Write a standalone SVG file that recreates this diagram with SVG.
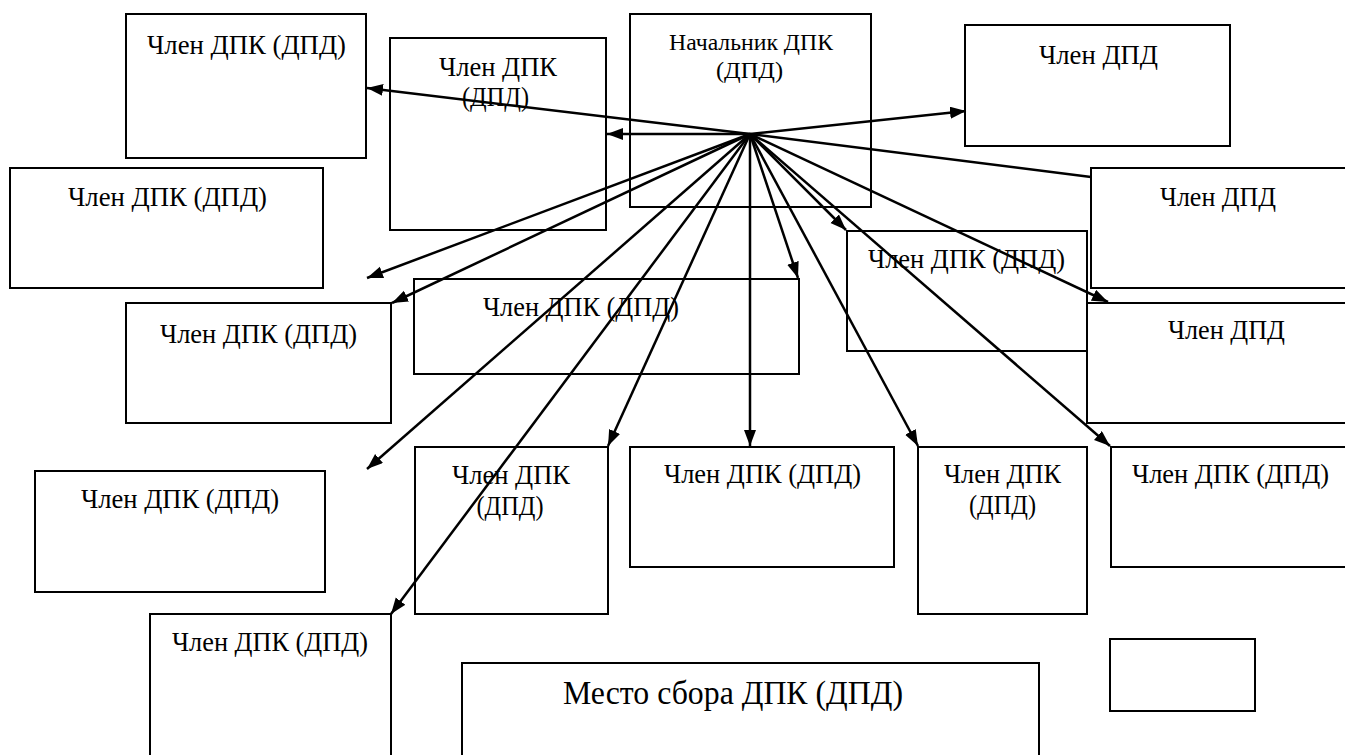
<svg xmlns="http://www.w3.org/2000/svg" width="1345" height="755" viewBox="0 0 1345 755">
<style>
.box{fill:#fff;stroke:#000;stroke-width:2}
.t{font-family:"Liberation Serif","Times New Roman",serif;font-size:28px;fill:#000;text-anchor:middle}
.s{font-size:24px}
.b{font-size:33px}
.c{stroke:#000;stroke-width:2.5;fill:none}
.a{marker-end:url(#ah)}
</style>
<defs>
<marker id="ah" markerUnits="userSpaceOnUse" markerWidth="17" markerHeight="13" refX="16" refY="6" orient="auto">
<path d="M0,0 L16,6 L0,12 z" fill="#000"/>
</marker>
</defs>
<rect width="1345" height="755" fill="#fff"/>
<g id="nodeA"><rect class="box" x="126" y="14" width="240" height="144"/><text class="t" x="246.5" y="54" textLength="199" lengthAdjust="spacingAndGlyphs">Член ДПК (ДПД)</text></g>
<g id="nodeB"><rect class="box" x="390" y="38" width="216" height="192"/><text class="t" x="498" y="76" textLength="118" lengthAdjust="spacingAndGlyphs">Член ДПК</text><text class="t" x="495.5" y="106" textLength="67" lengthAdjust="spacingAndGlyphs">(ДПД)</text></g>
<g id="nodeC"><rect class="box" x="630" y="14" width="241" height="193"/><text class="t s" x="751" y="50" textLength="164" lengthAdjust="spacingAndGlyphs">Начальник ДПК</text><text class="t s" x="749.5" y="78" textLength="67" lengthAdjust="spacingAndGlyphs">(ДПД)</text></g>
<g id="nodeD"><rect class="box" x="965" y="25" width="265" height="121"/><text class="t" x="1098.5" y="64" textLength="119" lengthAdjust="spacingAndGlyphs">Член ДПД</text></g>
<g id="nodeE"><rect class="box" x="1091" y="168" width="260" height="120"/><text class="t" x="1218" y="206" textLength="116" lengthAdjust="spacingAndGlyphs">Член ДПД</text></g>
<g id="nodeF"><rect class="box" x="10" y="168" width="313" height="120"/><text class="t" x="167.5" y="206" textLength="199" lengthAdjust="spacingAndGlyphs">Член ДПК (ДПД)</text></g>
<g id="nodeG"><rect class="box" x="847" y="231" width="240" height="120"/><text class="t" x="966.5" y="268" textLength="197" lengthAdjust="spacingAndGlyphs">Член ДПК (ДПД)</text></g>
<g id="nodeH"><rect class="box" x="126" y="303" width="265" height="120"/><text class="t" x="258.5" y="343" textLength="197" lengthAdjust="spacingAndGlyphs">Член ДПК (ДПД)</text></g>
<g id="nodeI"><rect class="box" x="414" y="279" width="385" height="95"/><text class="t" x="581" y="316" textLength="196" lengthAdjust="spacingAndGlyphs">Член ДПК (ДПД)</text></g>
<g id="nodeJ"><rect class="box" x="1087" y="303" width="264" height="120"/><text class="t" x="1226.5" y="339" textLength="117" lengthAdjust="spacingAndGlyphs">Член ДПД</text></g>
<g id="nodeK"><rect class="box" x="35" y="471" width="290" height="121"/><text class="t" x="180" y="508" textLength="198" lengthAdjust="spacingAndGlyphs">Член ДПК (ДПД)</text></g>
<g id="nodeL"><rect class="box" x="415" y="447" width="193" height="167"/><text class="t" x="511" y="484" textLength="118" lengthAdjust="spacingAndGlyphs">Член ДПК</text><text class="t" x="510" y="515" textLength="67" lengthAdjust="spacingAndGlyphs">(ДПД)</text></g>
<g id="nodeM"><rect class="box" x="630" y="447" width="264" height="120"/><text class="t" x="762.5" y="483" textLength="197" lengthAdjust="spacingAndGlyphs">Член ДПК (ДПД)</text></g>
<g id="nodeN"><rect class="box" x="918" y="447" width="169" height="167"/><text class="t" x="1002.5" y="483" textLength="117" lengthAdjust="spacingAndGlyphs">Член ДПК</text><text class="t" x="1002.5" y="514" textLength="67" lengthAdjust="spacingAndGlyphs">(ДПД)</text></g>
<g id="nodeO"><rect class="box" x="1111" y="447" width="240" height="120"/><text class="t" x="1230.5" y="483" textLength="197" lengthAdjust="spacingAndGlyphs">Член ДПК (ДПД)</text></g>
<g id="nodeP"><rect class="box" x="150" y="614" width="241" height="150"/><text class="t" x="270" y="651" textLength="196" lengthAdjust="spacingAndGlyphs">Член ДПК (ДПД)</text></g>
<g id="nodeQ"><rect class="box" x="462" y="663" width="577" height="100"/><text class="t b" x="733" y="704" textLength="340" lengthAdjust="spacingAndGlyphs">Место сбора ДПК (ДПД)</text></g>
<g id="nodeR"><rect class="box" x="1110" y="639" width="145" height="72"/></g>
<g id="connectors">
<line class="c a" x1="750" y1="134" x2="367" y2="88"/>
<line class="c a" x1="750" y1="134" x2="607" y2="134"/>
<line class="c a" x1="750" y1="134" x2="966" y2="111"/>
<line class="c" x1="750" y1="134" x2="1091" y2="177"/>
<line class="c a" x1="750" y1="134" x2="367" y2="278"/>
<line class="c a" x1="750" y1="134" x2="392" y2="303"/>
<line class="c a" x1="750" y1="134" x2="367" y2="469"/>
<line class="c a" x1="750" y1="134" x2="391" y2="614"/>
<line class="c a" x1="750" y1="134" x2="608" y2="446"/>
<line class="c a" x1="750" y1="134" x2="750" y2="446"/>
<line class="c a" x1="750" y1="134" x2="798" y2="278"/>
<line class="c a" x1="750" y1="134" x2="846" y2="230"/>
<line class="c a" x1="750" y1="134" x2="1108" y2="302"/>
<line class="c a" x1="750" y1="134" x2="918" y2="446"/>
<line class="c a" x1="750" y1="134" x2="1110" y2="446"/>
</g>
</svg>
